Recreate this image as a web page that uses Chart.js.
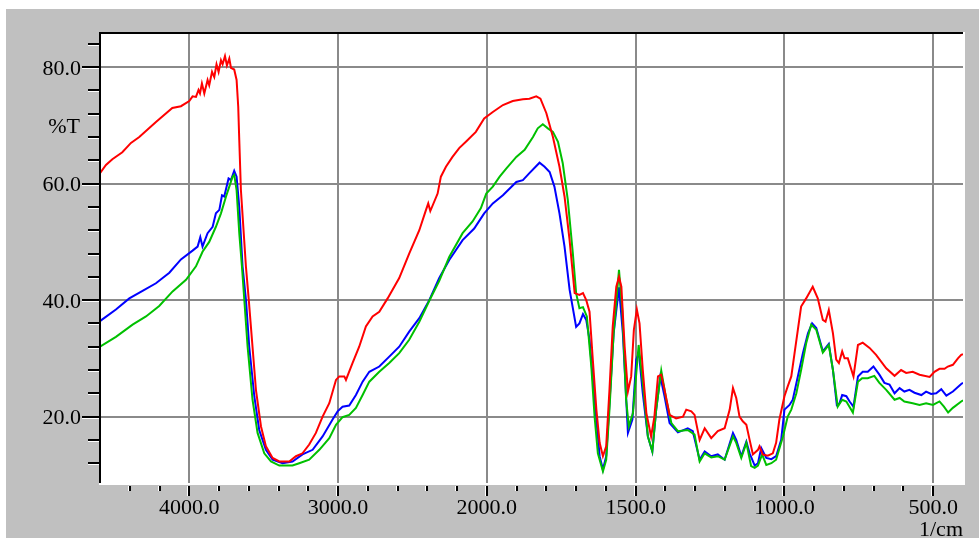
<!DOCTYPE html>
<html>
<head>
<meta charset="utf-8">
<title>IR spectra</title>
<script src="https://cdn.jsdelivr.net/npm/chart.js@4.4.1/dist/chart.umd.min.js"></script>
<style>
  html, body { margin: 0; padding: 0; background: #fff; }
  #panel { position: absolute; left: 6px; top: 9px; width: 973px; height: 529px; background: #c0c0c0; }
</style>
</head>
<body>
<div id="panel"><canvas id="irChart"></canvas></div>
<script>
// wavenumber (1/cm) and transmittance (%T) for the three samples
const redWn = [4600,4560,4517,4450,4392,4336,4224,4114,4056,4000,
  3978,3955,3938,3928,3915,3899,3877,3866,3847,3832,
  3817,3803,3787,3776,3760,3747,3731,3720,3698,3682,
  3671,3664,3653,3619,3600,3575,3552,3518,3485,3440,
  3395,3328,3283,3239,3194,3149,3104,3059,3014,2992,
  2958,2947,2903,2858,2813,2768,2723,2667,2589,2522,
  2454,2409,2394,2380,2331,2309,2275,2231,2186,2141,
  2074,2018,1980,1946,1913,1879,1857,1834,1820,1800,
  1778,1756,1739,1722,1705,1689,1677,1666,1655,1644,
  1632,1621,1610,1599,1588,1577,1565,1556,1548,1537,
  1526,1515,1506,1496,1487,1476,1464,1448,1437,1425,
  1414,1403,1386,1364,1341,1330,1313,1302,1285,1268,
  1246,1224,1201,1184,1173,1162,1151,1140,1128,1117,
  1106,1089,1084,1073,1056,1039,1028,1017,1000,989,
  977,966,955,944,927,905,888,871,862,851,
  837,826,817,806,798,787,768,753,737,714,
  692,658,630,608,591,569,546,512,496,479,
  462,451,434,417,406,400];
const redT = [61.8,63.2,64.2,65.4,67.0,68.0,70.6,73.0,73.3,74.2,
  75.0,74.9,76.1,75.5,77.2,75.5,77.8,76.9,79.2,78.3,
  80.5,79.2,81.2,80.5,81.9,80.3,81.5,79.9,79.6,77.8,
  73.2,67.5,58.9,45.7,40.0,32.0,24.6,18.3,14.9,12.9,
  12.3,12.3,13.2,13.7,15.2,17.2,20.0,22.3,26.3,26.9,
  26.9,26.3,29.2,32.0,35.5,37.2,38.0,40.3,43.8,48.0,
  52.0,55.5,56.6,55.3,58.3,61.2,62.9,64.6,66.1,67.2,
  68.9,71.2,72.3,73.5,74.2,74.5,74.6,75.0,74.6,72.1,
  68.0,62.9,57.8,50.3,41.2,40.9,41.2,40.0,38.0,29.8,
  21.2,15.5,13.2,14.9,24.6,35.5,42.3,44.0,42.3,32.0,
  24.3,26.9,34.9,38.4,36.0,28.0,20.6,16.6,20.0,26.9,
  27.2,24.6,20.3,19.7,20.0,21.2,20.9,20.3,16.0,18.0,
  16.3,17.5,18.0,21.2,24.9,23.2,20.0,19.2,18.6,16.0,
  13.5,14.3,14.9,13.5,13.3,13.7,15.5,19.5,23.5,25.2,
  26.9,30.9,34.9,38.9,40.3,42.3,40.3,36.6,36.3,38.3,
  34.3,29.8,29.2,31.2,30.0,30.0,26.9,32.3,32.7,31.8,
  30.6,28.3,27.0,28.0,27.5,27.7,27.2,26.8,27.7,28.2,
  28.2,28.6,28.9,30.0,30.6,30.7];

const blueWn = [4600,4493,4403,4314,4224,4134,4056,3978,3944,3926,
  3911,3877,3843,3821,3798,3780,3765,3736,3720,3698,
  3682,3664,3642,3619,3597,3563,3530,3485,3440,3373,
  3306,3239,3171,3104,3037,3003,2970,2925,2880,2835,
  2790,2723,2656,2589,2522,2454,2387,2320,2253,2163,
  2085,2018,1980,1946,1901,1879,1857,1823,1806,1789,
  1773,1756,1739,1722,1700,1689,1677,1666,1655,1638,
  1621,1610,1599,1588,1574,1556,1543,1526,1511,1498,
  1489,1476,1459,1444,1431,1417,1403,1386,1358,1325,
  1308,1285,1268,1246,1224,1201,1173,1162,1145,1128,
  1117,1100,1089,1078,1061,1044,1028,1011,1000,983,
  972,955,938,921,907,893,871,851,837,824,
  815,806,792,781,768,753,737,720,701,681,
  664,647,630,613,597,580,563,540,524,507,
  490,473,456,434,406,400];
const blueT = [36.4,38.4,40.3,41.6,42.9,44.7,47.0,48.5,49.2,50.8,
  49.2,51.5,52.6,54.9,55.5,58.0,57.8,60.9,60.6,62.2,
  61.2,56.0,45.8,40.0,32.0,23.5,17.7,14.3,12.6,12.0,
  12.3,13.5,14.3,16.6,19.5,20.9,21.7,21.9,23.7,26.0,
  27.7,28.6,30.3,32.0,34.6,36.9,40.0,43.8,46.9,50.3,
  52.3,54.9,56.6,58.0,60.3,60.6,61.8,63.6,62.9,62.0,
  59.5,54.9,49.2,41.8,35.4,36.0,37.6,36.6,33.2,22.9,
  13.2,10.9,13.2,22.3,34.3,42.2,34.3,17.2,19.5,29.8,
  30.9,24.0,16.6,14.0,21.2,26.9,23.5,18.9,17.3,18.0,
  17.5,12.6,14.0,13.2,13.5,12.6,17.2,16.0,13.2,15.7,
  13.7,11.6,12.0,14.6,12.9,12.7,13.2,16.0,21.2,22.0,
  22.9,26.9,30.9,34.3,36.0,35.2,31.2,32.5,28.0,22.0,
  22.3,23.7,23.5,22.6,21.7,26.9,27.7,27.7,28.6,27.2,
  25.8,25.5,24.0,24.9,24.3,24.6,24.1,23.7,24.3,23.9,
  24.0,24.7,23.6,24.3,25.6,25.8];

const greenWn = [4600,4493,4381,4291,4202,4112,4022,3955,3911,3866,
  3821,3787,3753,3731,3709,3698,3682,3664,3646,3630,
  3608,3575,3541,3496,3451,3395,3306,3261,3194,3126,
  3059,3014,2970,2925,2880,2835,2790,2723,2656,2589,
  2522,2454,2387,2320,2253,2163,2096,2040,2004,1980,
  1957,1935,1901,1873,1845,1829,1812,1795,1778,1761,
  1745,1728,1711,1700,1689,1677,1664,1649,1638,1627,
  1610,1599,1588,1574,1556,1545,1532,1523,1509,1490,
  1476,1459,1444,1431,1414,1397,1380,1358,1325,1302,
  1285,1268,1246,1224,1201,1173,1162,1145,1128,1112,
  1100,1089,1075,1061,1044,1028,1005,989,977,960,
  944,927,910,893,871,851,837,821,806,792,
  770,753,739,720,698,681,658,630,613,597,
  569,546,524,501,479,464,450,434,406,400];
const greenT = [32.0,33.7,35.8,37.2,39.0,41.5,43.5,45.8,48.3,50.0,
  52.6,54.9,57.8,59.5,61.2,61.5,58.9,51.5,45.8,40.0,
  32.0,22.9,17.2,13.7,12.3,11.6,11.6,12.0,12.6,14.3,
  16.3,18.6,19.9,20.3,21.5,23.7,26.0,27.7,29.2,30.9,
  33.2,36.3,39.9,43.3,47.4,51.5,53.5,55.8,58.3,59.5,
  61.2,62.6,64.6,65.8,68.0,69.5,70.2,69.5,68.9,67.2,
  63.5,57.2,48.0,41.2,38.6,38.8,37.2,28.6,20.0,13.7,
  10.6,12.6,21.2,34.3,45.2,38.3,22.9,18.3,20.6,32.3,
  25.8,16.6,14.0,21.2,27.9,22.9,18.9,17.5,17.7,16.9,
  12.3,13.7,13.0,13.2,12.6,16.6,15.5,12.9,15.5,11.5,
  11.2,11.6,13.5,11.7,12.0,12.6,16.6,20.0,21.2,24.0,
  28.0,32.6,35.8,34.9,31.0,32.3,28.0,21.7,22.9,22.6,
  20.7,26.0,26.6,26.6,27.0,25.8,24.6,22.9,23.2,22.6,
  22.3,22.0,22.3,22.0,22.6,21.7,20.7,21.5,22.6,22.8];

// labelled ticks
const xLabels = [4000, 3000, 2000, 1500, 1000, 500];
const yLabels = [20, 40, 60, 80];

// axis is drawn at half scale above 2000 1/cm
function toAxis(wn) { return wn > 2000 ? 2000 + (wn - 2000) / 2 : wn; }
function fromAxis(p) { return p > 2000 ? 2000 + (p - 2000) * 2 : p; }

function points(wn, t) {
  return wn.map((w, i) => ({ x: toAxis(w), y: t[i] }));
}

function isMajorX(v) { return xLabels.includes(fromAxis(Math.round(v))); }
function isMajorY(v) { return yLabels.includes(Math.round(v * 10) / 10); }

const font = { family: '"Liberation Serif", "Times New Roman", serif', size: 22 };
const gridColor = '#8a8a8a';

// white plot area, bevelled frame, tick marks and axis captions
const framePlugin = {
  id: 'frame',
  beforeDraw(chart) {
    const { ctx, chartArea: a } = chart;
    ctx.save();
    ctx.fillStyle = '#fff';
    ctx.fillRect(a.left, a.top, a.right - a.left, a.bottom - a.top);
    ctx.restore();
  },
  afterDraw(chart) {
    const { ctx, chartArea: a, scales } = chart;
    ctx.save();

    ctx.fillStyle = '#000';
    ctx.fillRect(a.left - 1, a.top - 2, a.right - a.left + 1, 2);
    ctx.fillRect(a.left - 1, a.top - 2, 2, a.bottom - a.top + 2);
    ctx.fillStyle = '#fff';
    ctx.fillRect(a.left - 1, a.bottom, a.right - a.left + 3, 2);
    ctx.fillRect(a.right, a.top - 2, 2, a.bottom - a.top + 4);

    scales.y.ticks.forEach(t => {
      const y = Math.round(scales.y.getPixelForValue(t.value));
      const len = isMajorY(t.value) ? 17 : 11;
      ctx.fillStyle = '#000';
      ctx.fillRect(a.left - 1 - len, y - 1, len, 2);
      ctx.fillStyle = '#fff';
      ctx.fillRect(a.left - 1 - len, y + 1, len, 1);
    });

    scales.x.ticks.forEach(t => {
      if (t.value <= scales.x.min || t.value >= scales.x.max) return;
      const x = Math.round(scales.x.getPixelForValue(t.value));
      const len = isMajorX(t.value) ? 10 : 5;
      ctx.fillStyle = '#000';
      ctx.fillRect(x - 1, a.bottom + 3, 2, len);
      ctx.fillStyle = '#fff';
      ctx.fillRect(x - 2, a.bottom + 3, 1, len);
    });

    ctx.fillStyle = '#000';
    ctx.font = font.size + 'px ' + font.family;
    ctx.textAlign = 'right';
    ctx.textBaseline = 'alphabetic';
    ctx.fillText('%T', a.left - 20, 124);
    ctx.fillText('1/cm', a.right, chart.height - 2);
    ctx.restore();
  }
};

new Chart(document.getElementById('irChart'), {
  type: 'line',
  data: {
    datasets: [
      { label: 'red', data: points(redWn, redT), borderColor: '#ff0000' },
      { label: 'green', data: points(greenWn, greenT), borderColor: '#00c000' },
      { label: 'blue', data: points(blueWn, blueT), borderColor: '#0000ff' }
    ]
  },
  options: {
    responsive: true,
    maintainAspectRatio: false,
    animation: false,
    parsing: false,
    layout: { padding: { top: 25, right: 16, left: 0, bottom: 0 } },
    elements: {
      line: { borderWidth: 2, tension: 0, fill: false },
      point: { radius: 0 }
    },
    plugins: { legend: { display: false }, tooltip: { enabled: false } },
    scales: {
      x: {
        type: 'linear',
        reverse: true,
        min: 400,
        max: 3300,
        afterFit(scale) {
          scale.height = 55;
          scale.paddingLeft = 0;
          scale.paddingRight = 0;
        },
        border: { display: false },
        grid: {
          drawTicks: false,
          lineWidth: 2,
          color: c => isMajorX(c.tick.value) ? gridColor : 'rgba(0,0,0,0)'
        },
        ticks: {
          stepSize: 100,
          autoSkip: false,
          maxRotation: 0,
          padding: 12,
          color: '#000',
          font: font,
          callback: v => isMajorX(v) ? fromAxis(Math.round(v)).toFixed(1) : ''
        }
      },
      y: {
        min: 8.6,
        max: 85.7,
        afterFit(scale) {
          scale.width = 94;
          scale.paddingTop = 0;
          scale.paddingBottom = 0;
        },
        border: { display: false },
        grid: {
          drawTicks: false,
          lineWidth: 2,
          color: c => isMajorY(c.tick.value) ? gridColor : 'rgba(0,0,0,0)'
        },
        ticks: {
          stepSize: 4,
          includeBounds: false,
          autoSkip: false,
          padding: 19,
          labelOffset: 2,
          color: '#000',
          font: font,
          callback: v => isMajorY(v) ? v.toFixed(1) : ''
        }
      }
    }
  },
  plugins: [framePlugin]
});
</script>
</body>
</html>
